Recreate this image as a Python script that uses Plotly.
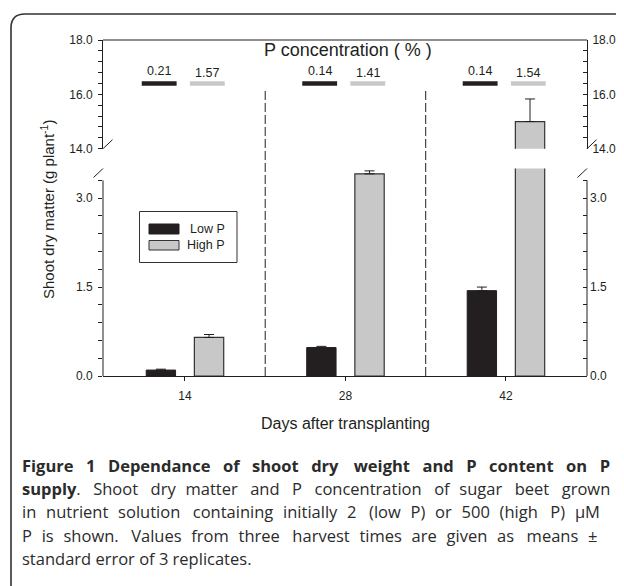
import plotly.graph_objects as go

# ---------------- data ----------------
days = [14, 28, 42]
low_mean = [0.10, 0.48, 1.44]
low_err = [0.015, 0.02, 0.06]
high_mean = [0.65, 3.41, 15.0]
high_err = [0.05, 0.05, 0.83]
low_pc = ["0.21", "0.14", "0.14"]
high_pc = ["1.57", "1.41", "1.54"]
series_names = ["Low P", "High P"]

# ---------------- layout geometry ----------------
W, H = 624, 586
OFF = 8                      # page offset of the figure (browser body margin)
PL, PR, PT, PB = 103, 587, 40, 376   # plot area in page pixels
MARGIN = dict(l=PL - OFF, r=W - (PR - OFF), t=PT - OFF, b=H - (PB - OFF), pad=0)


def px2x(p):
    return (p - PL) / (PR - PL)


def px2y(p):
    return (PB - p) / (PB - PT)


FONT = "Liberation Sans, Arial, sans-serif"
DARK = "#231f20"
GRAY = "#c8c8c8"

bar_w = 2.56
low_off = -2.1 - bar_w / 2
high_off = 2.1 - bar_w / 2

fig = go.Figure()

err_style = dict(type="data", symmetric=False, color=DARK, thickness=1, width=5)

fig.add_trace(go.Bar(
    x=days, y=low_mean, width=bar_w, offset=low_off, name=series_names[0],
    marker=dict(color=DARK, line=dict(color=DARK, width=1)),
    error_y=dict(array=low_err, arrayminus=[0] * len(days), **err_style),
    yaxis="y", showlegend=False))
for ax in ["y", "y2"]:
    fig.add_trace(go.Bar(
        x=days, y=high_mean, width=bar_w, offset=high_off, name=series_names[1],
        marker=dict(color=GRAY, line=dict(color="#333333", width=1.2)),
        error_y=dict(array=high_err, arrayminus=[0] * len(days), **err_style),
        yaxis=ax, showlegend=False))

# empty traces so that the right-hand mirror axes are drawn
for ax in ["y3", "y4"]:
    fig.add_trace(go.Scatter(x=[], y=[], yaxis=ax, showlegend=False, hoverinfo="skip"))

# P concentration markers (thick short lines) on the upper axis
line_y = 16.4
half = 1.52
lo_c, hi_c = -2.25, 1.95
lx, ly, hx, hy = [], [], [], []
for d in days:
    lx += [d + lo_c - half, d + lo_c + half, None]
    ly += [line_y, line_y, None]
    hx += [d + hi_c - half, d + hi_c + half, None]
    hy += [line_y, line_y, None]
fig.add_trace(go.Scatter(x=lx, y=ly, mode="lines", yaxis="y2",
                         line=dict(color=DARK, width=4.5), showlegend=False, hoverinfo="skip"))
fig.add_trace(go.Scatter(x=hx, y=hy, mode="lines", yaxis="y2",
                         line=dict(color=GRAY, width=4.5), showlegend=False, hoverinfo="skip"))


def ann(**kw):
    base = dict(showarrow=False, xanchor="center", yanchor="middle")
    base.update(kw)
    return base


annotations = []
for d, lt, ht in zip(days, low_pc, high_pc):
    annotations.append(ann(x=d + lo_c, y=line_y + 0.45, xref="x", yref="y2", text=lt,
                           font=dict(family=FONT, size=12.5, color=DARK)))
    annotations.append(ann(x=d + hi_c, y=line_y + 0.38, xref="x", yref="y2", text=ht,
                           font=dict(family=FONT, size=12.5, color=DARK)))

annotations.append(ann(x=px2x(348), y=px2y(50), xref="paper", yref="paper",
                       text="P concentration ( % )",
                       font=dict(family=FONT, size=18, color=DARK)))
annotations.append(ann(x=px2x(47), y=px2y(210), xref="paper", yref="paper",
                       text="Shoot dry matter (g plant<sup>-1</sup>)", textangle=-90,
                       font=dict(family=FONT, size=15, color=DARK)))
annotations.append(ann(x=0.5, y=px2y(423), xref="paper", yref="paper",
                       text="Days after transplanting",
                       font=dict(family=FONT, size=16, color=DARK)))

# custom legend
annotations.append(ann(x=px2x(227), y=px2y(229), xref="paper", yref="paper", xanchor="right",
                       text=series_names[0], font=dict(family=FONT, size=12.5, color=DARK)))
annotations.append(ann(x=px2x(227), y=px2y(245), xref="paper", yref="paper", xanchor="right",
                       text=series_names[1], font=dict(family=FONT, size=12.5, color=DARK)))


# caption (justified by widening the word gaps with thin spaces)
def justify(text, n_extra):
    words = text.split(" ")
    gaps = len(words) - 1
    out = words[0]
    for i in range(gaps):
        k = round((i + 1) * n_extra / gaps) - round(i * n_extra / gaps)
        out += " " + "\u2009" * k + words[i + 1]
    return out


CAP = "Open Sans, sans-serif"
cap_lines = [
    ("<b>Figure 1 Dependance of shoot dry weight and P content on P</b>", 34),
    ("<b>supply</b>. Shoot dry matter and P concentration of sugar beet grown", 28),
    ("in nutrient solution containing initially 2 (low P) or 500 (high P) µM", 27),
    ("P is shown. Values from three harvest times are given as means ±", 27),
    ("standard error of 3 replicates.", 0),
]
cap_y = [465, 488.3, 511.7, 535, 558.3]
for (t, n), yy in zip(cap_lines, cap_y):
    annotations.append(ann(x=px2x(20), y=px2y(yy), xref="paper", yref="paper",
                           xanchor="left", text=justify(t, n),
                           font=dict(family=CAP, size=16.5, color="#2b2b2b")))

shapes = []
# axis lines of lower segment (stop at 3.3)
for xp in [0, 1]:
    shapes.append(dict(type="line", xref="paper", yref="y", x0=xp, x1=xp, y0=0, y1=3.3,
                       line=dict(color=DARK, width=1)))
# top frame line
shapes.append(dict(type="line", xref="paper", yref="paper", x0=0, x1=1, y0=1, y1=1,
                   line=dict(color=DARK, width=1)))
# separators between harvests
for xd in [(days[0] + days[1]) / 2, (days[1] + days[2]) / 2]:
    shapes.append(dict(type="line", xref="x", yref="paper", x0=xd, x1=xd, y0=0, y1=px2y(88),
                       line=dict(color=DARK, width=1, dash="9px,3px")))
# axis break slashes
for xp in [0, 1]:
    for yr, ya in [("y2", 14), ("y", 3.5)]:
        shapes.append(dict(type="line", xref="paper", yref=yr, xsizemode="pixel", ysizemode="pixel",
                           xanchor=xp, yanchor=ya, x0=-9.5, x1=9.5, y0=-9, y1=9,
                           line=dict(color=DARK, width=1)))
# legend box and swatches
shapes.append(dict(type="rect", xref="paper", yref="paper",
                   x0=px2x(139.5), x1=px2x(237), y0=px2y(262.5), y1=px2y(211.5),
                   line=dict(color="#333333", width=1), fillcolor="white", layer="below"))
shapes.append(dict(type="rect", xref="paper", yref="paper",
                   x0=px2x(149), x1=px2x(179), y0=px2y(234), y1=px2y(224),
                   line=dict(color=DARK, width=1), fillcolor=DARK))
shapes.append(dict(type="rect", xref="paper", yref="paper",
                   x0=px2x(149), x1=px2x(179), y0=px2y(250), y1=px2y(240.5),
                   line=dict(color="#333333", width=1), fillcolor=GRAY))
# outer rounded frame
r = 14
fx, fy = 11, 14
path = (f"M {px2x(fx)} {px2y(H + 20)} L {px2x(fx)} {px2y(fy + r)} "
        f"Q {px2x(fx)} {px2y(fy)} {px2x(fx + r)} {px2y(fy)} L {px2x(W + 20)} {px2y(fy)}")
shapes.append(dict(type="path", xref="paper", yref="paper", path=path,
                   line=dict(color="#333333", width=1.6)))

tickfont = dict(family=FONT, size=12, color=DARK)
dom_lo = [0, px2y(168.5)]
dom_hi = [px2y(148.7), 1]

common_y = dict(tickformat=".1f", tickfont=tickfont, ticklen=4, tickcolor=DARK,
                showgrid=False, zeroline=False, automargin=False, linecolor=DARK, linewidth=1)

fig.update_layout(
    width=W, height=H,
    margin=MARGIN,
    paper_bgcolor="white", plot_bgcolor="white",
    barmode="overlay", showlegend=False,
    xaxis=dict(range=[6.85, 49.07], tickvals=days, ticktext=[str(d) for d in days],
               ticks="outside", ticklen=4, tickcolor=DARK, tickfont=tickfont,
               showline=True, linecolor=DARK, linewidth=1, showgrid=False, zeroline=False,
               automargin=False, anchor="y", ticklabelstandoff=5),
    yaxis=dict(domain=dom_lo, range=[0, 3.5], dtick=1.5, tick0=0, ticks="outside",
               showline=False, anchor="x", ticklabelstandoff=3,
               minor=dict(dtick=0.3, tick0=0, ticks="outside", ticklen=4, tickcolor=DARK),
               **common_y),
    yaxis2=dict(domain=dom_hi, range=[14, 18], dtick=2, tick0=0, ticks="outside",
                showline=True, anchor="x", ticklabelstandoff=3,
                minor=dict(dtick=0.4, tick0=0, ticks="outside", ticklen=4, tickcolor=DARK),
                **common_y),
    yaxis3=dict(overlaying="y", side="right", range=[0, 3.5], dtick=1.5, tick0=0,
                ticks="inside", showline=False, anchor="x", ticklabelstandoff=2,
                minor=dict(dtick=0.3, tick0=0, ticks="inside", ticklen=4, tickcolor=DARK),
                **common_y),
    yaxis4=dict(overlaying="y2", side="right", range=[14, 18], dtick=2, tick0=0,
                ticks="inside", showline=True, anchor="x", ticklabelstandoff=2,
                minor=dict(dtick=0.4, tick0=0, ticks="inside", ticklen=4, tickcolor=DARK),
                **common_y),
    annotations=annotations,
    shapes=shapes,
)

fig.write_html("out.html")
